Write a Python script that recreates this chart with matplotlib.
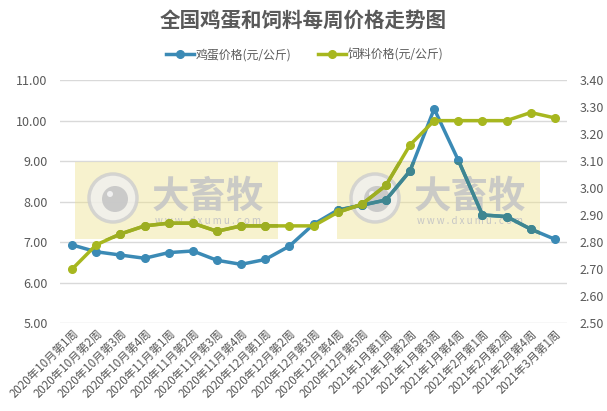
import matplotlib
matplotlib.use("Agg")
import matplotlib.pyplot as plt
from matplotlib.patches import Rectangle, Ellipse

plt.rcParams['font.family'] = ['Noto Sans CJK SC', 'DejaVu Sans']

weeks = [
    "2020年10月第1周", "2020年10月第2周", "2020年10月第3周", "2020年10月第4周",
    "2020年11月第1周", "2020年11月第2周", "2020年11月第3周", "2020年11月第4周",
    "2020年12月第1周", "2020年12月第2周", "2020年12月第3周", "2020年12月第4周",
    "2020年12月第5周", "2021年1月第1周", "2021年1月第2周", "2021年1月第3周",
    "2021年1月第4周", "2021年2月第1周", "2021年2月第2周", "2021年2月第4周",
    "2021年3月第1周",
]
egg_price = [6.93, 6.76, 6.68, 6.60, 6.74, 6.78, 6.55, 6.45, 6.57, 6.90, 7.44,
             7.79, 7.91, 8.04, 8.76, 10.29, 9.02, 7.67, 7.63, 7.32, 7.07]
feed_price = [2.70, 2.79, 2.83, 2.86, 2.87, 2.87, 2.84, 2.86, 2.86, 2.86, 2.86,
              2.91, 2.94, 3.01, 3.16, 3.25, 3.25, 3.25, 3.25, 3.28, 3.26]

left_ticks = [5, 6, 7, 8, 9, 10, 11]
right_ticks = [2.5, 2.6, 2.7, 2.8, 2.9, 3.0, 3.1, 3.2, 3.3, 3.4]

blue = "#3B8AB5"
green = "#A7B71F"
# colours of the lines where the yellow watermark lies on top of them
blue_tint = "#3F8690"
green_tint = "#9DAE22"
text_grey = "#595959"
grid_grey = "#D9D9D9"

W, H = 607, 411
fig = plt.figure(figsize=(W / 100, H / 100), dpi=100)
ax = fig.add_axes([0.099, 0.214, 0.835, 0.591])
ax2 = ax.twinx()

x = list(range(len(weeks)))

ax.set_ylim(5, 11)
ax.set_yticks(left_ticks)
ax.set_yticklabels([f"{v:.2f}" for v in left_ticks])
ax.grid(axis="y", color=grid_grey, linewidth=1)
ax.set_axisbelow(True)
ax.set_xlim(-0.5, len(weeks) - 0.5)
ax.set_xticks(x)
ax.set_xticklabels(weeks, rotation=45, ha="right", rotation_mode="anchor",
                   fontsize=8.3, color=text_grey)

ax2.set_ylim(2.5, 3.4)
ax2.set_yticks(right_ticks)
ax2.set_yticklabels([f"{v:.2f}" for v in right_ticks])

for a in (ax, ax2):
    for s in a.spines.values():
        s.set_visible(False)
    a.tick_params(length=0, labelsize=9, labelcolor=text_grey)
ax.tick_params(axis="y", pad=9)
ax2.tick_params(axis="y", pad=9)
ax.tick_params(axis="x", pad=3, labelsize=8.3)

ax2.patch.set_visible(False)

# watermarks, drawn under the lines (pixel positions -> figure fractions)
clip_boxes = []
for x0 in (75, 337):
    tf = fig.transFigure
    ax.add_patch(Rectangle((x0 / W, 1 - 239 / H), 203 / W, 77 / H, transform=tf,
                           facecolor="#EEE28C", alpha=0.42, edgecolor="none",
                           zorder=1, clip_on=False))
    ax.add_patch(Ellipse(((x0 + 38) / W, 1 - 198 / H), 48 / W, 48 / H, transform=tf,
                         facecolor="#F0F0F0", edgecolor="#CDCDCD", linewidth=2.5,
                         alpha=0.8, zorder=1.1, clip_on=False))
    ax.add_patch(Ellipse(((x0 + 40) / W, 1 - 199 / H), 26 / W, 26 / H, transform=tf,
                         facecolor="#C6C6C6", edgecolor="none", alpha=0.9,
                         zorder=1.2, clip_on=False))
    ax.add_patch(Ellipse(((x0 + 35) / W, 1 - 194 / H), 6 / W, 6 / H, transform=tf,
                         facecolor="#F0F0F0", edgecolor="none", zorder=1.3,
                         clip_on=False))
    ax.text((x0 + 133) / W, 1 - 196 / H, "大畜牧", transform=tf, fontsize=27,
            weight="bold", color="#C6C6C6", ha="center", va="center", alpha=0.9,
            zorder=1.2)
    ax.text((x0 + 133) / W, 1 - 221 / H, "w w w . d x u m u . c o m", transform=tf,
            fontsize=7, color="#C6C6C6", ha="center", va="center", zorder=1.2)
    clip_boxes.append(Rectangle((x0 / W, 1 - 239 / H), 203 / W, 77 / H,
                                transform=tf))

l1, = ax.plot(x, egg_price, color=blue, linewidth=2.5, marker="o", markersize=5.5,
              label="鸡蛋价格(元/公斤)", zorder=3)
l2, = ax2.plot(x, feed_price, color=green, linewidth=2.5, marker="o", markersize=5.5,
               label="饲料价格(元/公斤)", zorder=3)

# tinted copies of the lines inside the watermark boxes
for box in clip_boxes:
    t1, = ax.plot(x, egg_price, color=blue_tint, linewidth=2.5, marker="o",
                  markersize=5.5, zorder=3.1)
    t1.set_clip_path(box)
    t2, = ax2.plot(x, feed_price, color=green_tint, linewidth=2.5, marker="o",
                   markersize=5.5, zorder=3.1)
    t2.set_clip_path(Rectangle(box.get_xy(), box.get_width(), box.get_height(),
                               transform=fig.transFigure))

fig.text(0.5, 1 - 20 / H, "全国鸡蛋和饲料每周价格走势图", ha="center", va="center",
         fontsize=14.8, weight="bold", color=text_grey)
fig.legend(handles=[l1, l2], loc="center", bbox_to_anchor=(305 / W, 1 - 55 / H),
           ncol=2, frameon=False, fontsize=8.6, handlelength=2.3, columnspacing=2.2,
           handletextpad=0.2, labelcolor=text_grey)

fig.savefig("out.png", dpi=100)
